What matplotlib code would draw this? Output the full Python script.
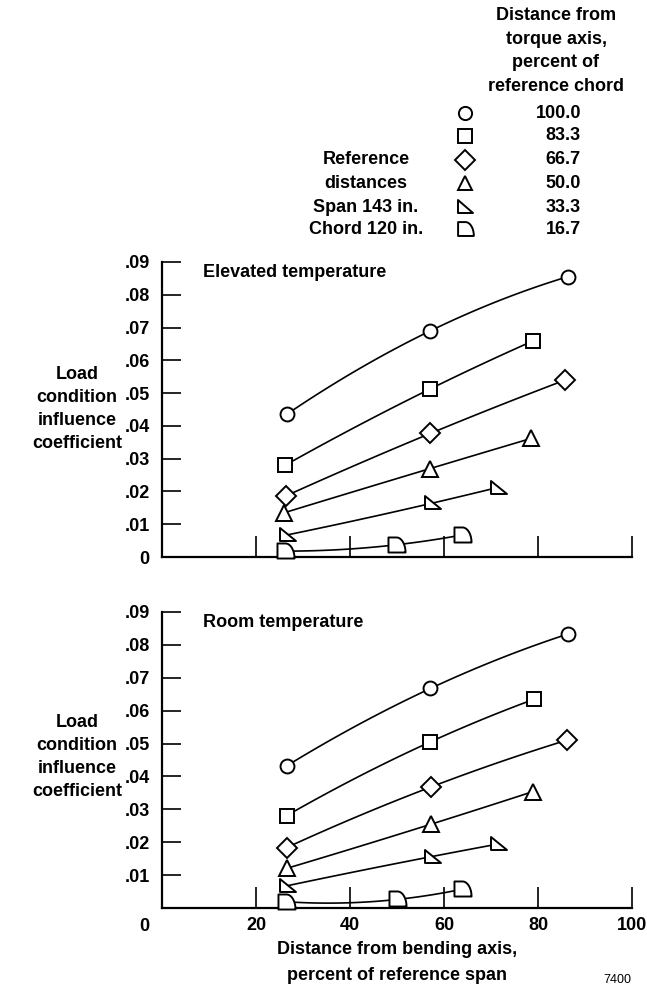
import numpy as np
import matplotlib
matplotlib.use("Agg")
import matplotlib.pyplot as plt
from matplotlib.path import Path

plt.rcParams['font.family'] = ['Liberation Sans', 'DejaVu Sans']
plt.rcParams['font.weight'] = 'bold'

# ---- data ----
torque_labels = ["100.0", "83.3", "66.7", "50.0", "33.3", "16.7"]

elev_x = [
    [26.5, 57.1, 86.3],
    [26.2, 57.1, 78.9],
    [26.3, 57.1, 85.8],
    [26.0, 57.1, 78.6],
    [26.5, 57.4, 71.4],
    [26.2, 49.7, 63.8],
]
elev_y = [
    [0.0435, 0.0690, 0.0855],
    [0.0280, 0.0513, 0.0659],
    [0.0186, 0.0377, 0.0540],
    [0.0135, 0.0270, 0.0362],
    [0.0067, 0.0164, 0.0212],
    [0.0018, 0.0037, 0.0067],
]
room_x = [
    [26.5, 57.1, 86.3],
    [26.5, 57.1, 79.1],
    [26.5, 57.2, 86.1],
    [26.5, 57.2, 78.9],
    [26.5, 57.4, 71.5],
    [26.3, 50.1, 63.9],
]
room_y = [
    [0.0432, 0.0667, 0.0832],
    [0.0281, 0.0505, 0.0634],
    [0.0184, 0.0368, 0.0510],
    [0.0121, 0.0255, 0.0354],
    [0.0068, 0.0157, 0.0195],
    [0.0020, 0.0027, 0.0058],
]
yticks = [0.01, 0.02, 0.03, 0.04, 0.05, 0.06, 0.07, 0.08, 0.09]
ytick_labels = [".01", ".02", ".03", ".04", ".05", ".06", ".07", ".08", ".09"]
xticks = [20, 40, 60, 80, 100]
xtick_labels = ["20", "40", "60", "80", "100"]

# ---- custom markers ----
rtri = Path([(-0.8, 0.8), (-0.8, -0.7), (1.0, -0.7), (-0.8, 0.8)],
            [Path.MOVETO, Path.LINETO, Path.LINETO, Path.CLOSEPOLY])
theta = np.linspace(np.pi / 2, 0, 20)
arc = [(0.0 + 0.9 * np.cos(t), -0.7 + 1.5 * np.sin(t)) for t in theta]
dverts = [(-0.8, -0.7), (-0.8, 0.8), (0.0, 0.8)] + arc[1:] + [(0.9, -0.7), (-0.8, -0.7)]
dcodes = [Path.MOVETO] + [Path.LINETO] * (len(dverts) - 2) + [Path.CLOSEPOLY]
dshape = Path(dverts, dcodes)
markers = ['o', 's', 'D', '^', rtri, dshape]
msizes = [10, 10.5, 10.5, 11.5, 13, 13]

W, H = 647, 993
fig = plt.figure(figsize=(W / 100, H / 100), dpi=100)

def fx(px):
    return px / W

def fy(py):
    return 1 - py / H

ax_left, ax_right = 162, 632
axes_info = [
    (262, 557, elev_x, elev_y, "Elevated temperature", False),
    (611.7, 908.3, room_x, room_y, "Room temperature", True),
]

fs = 13
for top, bot, xs, ys, title, bottom_panel in axes_info:
    ax = fig.add_axes([fx(ax_left), fy(bot), fx(ax_right - ax_left), (bot - top) / H])
    ax.set_xlim(0, 100)
    ax.set_ylim(0, 0.09)
    for s in ['top', 'right']:
        ax.spines[s].set_visible(False)
    for s in ['left', 'bottom']:
        ax.spines[s].set_linewidth(1.6)
    ax.set_yticks(yticks if bottom_panel else [0] + yticks)
    ax.set_yticklabels(ytick_labels if bottom_panel else ["0"] + ytick_labels)
    ax.set_xticks(xticks)
    if bottom_panel:
        ax.set_xticklabels(xtick_labels)
    else:
        ax.set_xticklabels([])
    ax.tick_params(axis='y', direction='in', length=14, width=1.2, pad=9, labelsize=fs)
    ax.tick_params(axis='x', direction='in', length=15, width=1.2, pad=6, labelsize=fs)
    for lab in ax.get_xticklabels() + ax.get_yticklabels():
        lab.set_fontweight('bold')
    ax.text(0.087, 0.965, title, transform=ax.transAxes, fontsize=fs,
            fontweight='bold', ha='left', va='center')
    if bottom_panel:
        ax.annotate("0", xy=(0, 0), xycoords='data', xytext=(-9, -7),
                    textcoords='offset points', ha='right', va='top',
                    fontsize=fs, fontweight='bold')
    for i in range(6):
        x = np.array(xs[i])
        y = np.array(ys[i])
        coef = np.polyfit(x, y, 2)
        xx = np.linspace(x[0], x[-1], 100)
        ax.plot(xx, np.polyval(coef, xx), color='black', lw=1.2, zorder=2)
        ax.plot(x, y, linestyle='none', marker=markers[i], markersize=msizes[i],
                mfc='white', mec='black', mew=1.4, zorder=3, clip_on=False)
    if bottom_panel:
        ax.set_xlabel("Distance from bending axis,\npercent of reference span",
                      fontsize=fs, fontweight='bold', labelpad=5, linespacing=1.75)

# y labels
for cy in [409, 757]:
    fig.text(fx(77), fy(cy), "Load\ncondition\ninfluence\ncoefficient",
             ha='center', va='center', fontsize=fs, fontweight='bold', linespacing=1.45)

# legend
fig.text(fx(556), fy(51), "Distance from\ntorque axis,\npercent of\nreference chord",
         ha='center', va='center', fontsize=fs, fontweight='bold', linespacing=1.5)
row_y = [113, 136, 160, 183, 207, 229]
lax = fig.add_axes([0, 0, 1, 1], facecolor='none')
lax.set_xlim(0, W)
lax.set_ylim(H, 0)
lax.axis('off')
lmsizes = [9.5, 9.5, 10.5, 10, 12, 12]
for i in range(6):
    lax.plot([465], [row_y[i]], marker=markers[i], markersize=lmsizes[i],
             mfc='white', mec='black', mew=1.4, linestyle='none')
    lax.text(581, row_y[i], torque_labels[i], ha='right', va='center',
             fontsize=fs, fontweight='bold')
for t, yy in zip(["Reference", "distances", "Span 143 in.", "Chord 120 in."],
                 [160, 183, 207, 229]):
    lax.text(366, yy, t, ha='center', va='center', fontsize=fs, fontweight='bold')
lax.text(617, 980, "7400", ha='center', va='center', fontsize=9, fontweight='normal')

fig.savefig("out.png", dpi=100)
